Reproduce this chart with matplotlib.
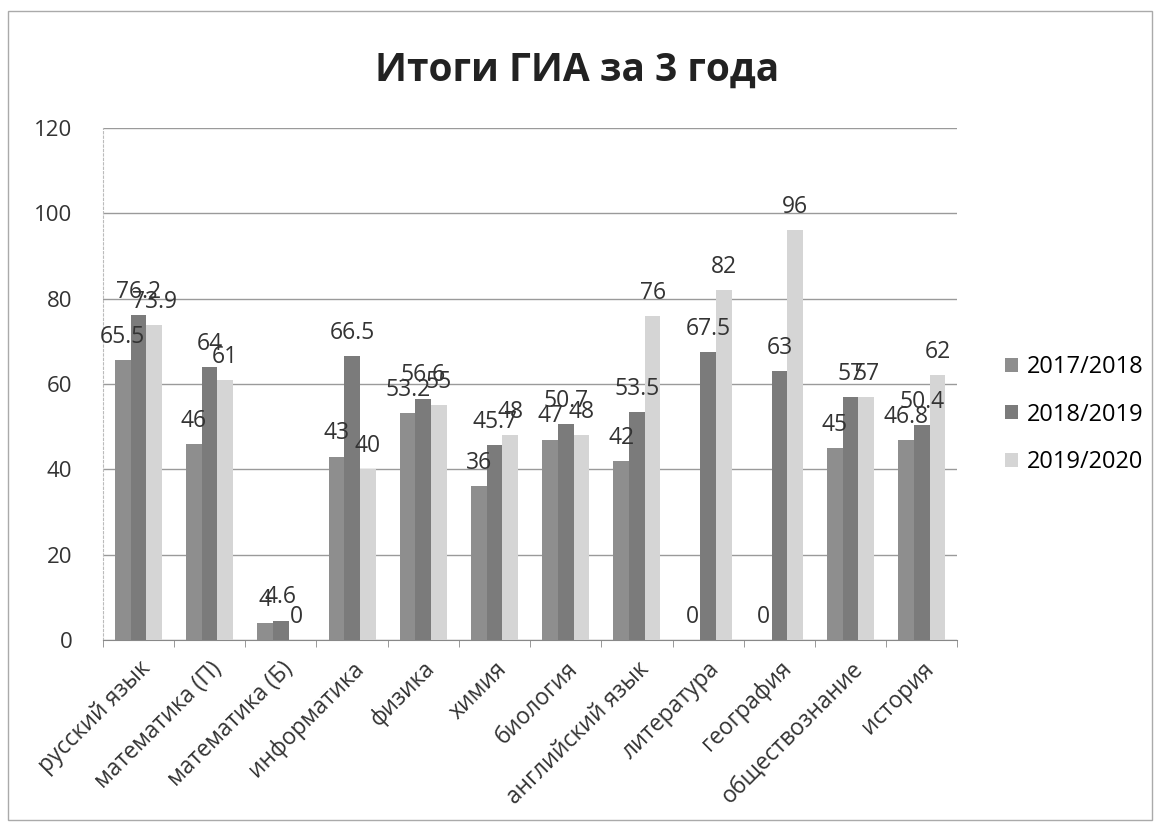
import numpy as np
import matplotlib
matplotlib.use("Agg")
import matplotlib.pyplot as plt
from matplotlib.patches import Rectangle

plt.rcParams['font.family'] = ['Open Sans', 'DejaVu Sans']

subjects = ['русский язык', 'математика (П)', 'математика (Б)', 'информатика',
            'физика', 'химия', 'биология', 'английский язык', 'литература',
            'география', 'обществознание', 'история']
years = ['2017/2018', '2018/2019', '2019/2020']
v2018 = [65.5, 46, 4, 43, 53.2, 36, 47, 42, 0, 0, 45, 46.8]
v2019 = [76.2, 64, 4.6, 66.5, 56.6, 45.7, 50.7, 53.5, 67.5, 63, 57, 50.4]
v2020 = [73.9, 61, 0, 40, 55, 48, 48, 76, 82, 96, 57, 62]
colors = ['#8e8e8e', '#7b7b7b', '#d5d5d5']

fig = plt.figure(figsize=(11.55, 8.24), dpi=100)
ax = fig.add_axes([0.089, 0.223, 0.740, 0.622])

x = np.arange(len(subjects))
w = 0.22
for i, (vals, lab) in enumerate(zip([v2018, v2019, v2020], years)):
    bars = ax.bar(x + (i - 1) * w, vals, w, color=colors[i], label=lab, zorder=3)
    ax.bar_label(bars, labels=[f'{v:g}' for v in vals], padding=8,
                 fontsize=16.5, color='#333333', zorder=4)

ax.set_xlim(-0.5, len(subjects) - 0.5)
ax.set_ylim(0, 120)
ax.set_yticks(range(0, 121, 20))
ax.yaxis.grid(True, color='#9a9a9a', linewidth=1, zorder=0)
ax.tick_params(axis='y', length=0, labelsize=16, pad=22, labelcolor='#333333')

ax.set_xticks(x)
ax.set_xticklabels(subjects, rotation=45, ha='right', rotation_mode='anchor',
                   fontsize=16.5, color='#333333')
ax.tick_params(axis='x', which='major', length=0, pad=12)
ax.set_xticks(np.arange(-0.5, len(subjects)), minor=True)
ax.tick_params(axis='x', which='minor', length=5, color='#888888')

for s in ['top', 'right']:
    ax.spines[s].set_visible(False)
ax.spines['left'].set_color('#bbbbbb')
ax.spines['left'].set_linestyle((0, (2, 2)))
ax.spines['bottom'].set_color('#888888')

fig.text(0.5, 0.915, 'Итоги ГИА за 3 года', ha='center', va='center',
         fontsize=28, fontweight='bold', color='#222222')

ax.legend(loc='center left', bbox_to_anchor=(1.045, 0.44), frameon=False,
          fontsize=17, handlelength=0.55, handleheight=0.55, labelspacing=1.0,
          handletextpad=0.35, borderaxespad=0)

fig.patches.append(Rectangle((0.007, 0.005), 0.99, 0.982, transform=fig.transFigure,
                             fill=False, edgecolor='#aaaaaa', linewidth=1))

fig.savefig('out.png', dpi=100, facecolor='white')
